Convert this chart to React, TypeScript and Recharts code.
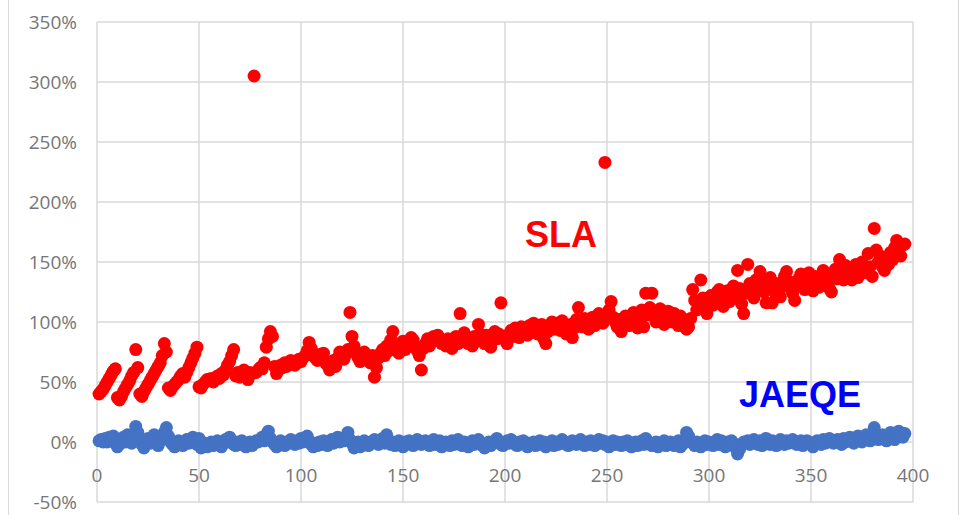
import React from 'react';
import { ScatterChart, Scatter, XAxis, YAxis, CartesianGrid } from 'recharts';

// SLA values (%), one per sequence number starting at 1
const slaValues = [
  40, 42, 44, 47, 50, 53, 56, 59, 61, 37, 35, 38, 42, 45, 48, 51, 55, 58, 77, 62,
  40, 38, 42, 45, 48, 51, 54, 57, 60, 63, 66, 72, 82, 75, 45, 43, 46, 48, 50, 52,
  55, 57, 54, 58, 62, 66, 70, 74, 79, 46, 45, 48, 50, 52, 51, 53, 50, 52, 55, 53,
  57, 56, 60, 64, 67, 72, 77, 55, 58, 54, 57, 60, 56, 52, 58, 57, 305, 58, 60, 62,
  61, 66, 79, 86, 92, 88, 63, 57, 60, 64, 62, 66, 63, 65, 68, 67, 64, 66, 69, 67,
  70, 72, 76, 83, 78, 72, 70, 68, 73, 72, 74, 66, 64, 60, 65, 68, 63, 70, 75, 72,
  69, 73, 77, 108, 88, 80, 74, 70, 67, 72, 75, 71, 68, 66, 72, 54, 62, 70, 74, 77,
  72, 80, 76, 85, 92, 82, 78, 74, 80, 84, 77, 79, 83, 87, 85, 80, 76, 72, 60, 78,
  82, 86, 80, 84, 88, 85, 89, 86, 82, 84, 80, 86, 83, 78, 85, 88, 82, 107, 84, 91,
  87, 82, 85, 80, 88, 84, 98, 90, 86, 82, 89, 85, 79, 88, 92, 86, 90, 116, 88, 85,
  82, 90, 93, 88, 95, 91, 87, 96, 92, 94, 89, 97, 93, 99, 95, 90, 94, 98, 86, 82,
  92, 96, 100, 94, 99, 97, 93, 101, 96, 90, 94, 98, 87, 95, 102, 112, 99, 96, 103, 100,
  94, 98, 104, 97, 101, 107, 103, 99, 233, 106, 110, 117, 104, 100, 96, 102, 92, 99, 105, 101,
  97, 103, 108, 100, 95, 104, 110, 96, 124, 106, 112, 124, 105, 100, 108, 111, 104, 98, 106, 109,
  103, 100, 107, 102, 97, 105, 101, 98, 94, 96, 103, 127, 118, 110, 115, 135, 120, 112, 107, 116,
  122, 114, 119, 125, 127, 118, 113, 121, 126, 117, 124, 130, 120, 143, 128, 115, 107, 124, 148, 132,
  126, 120, 135, 128, 142, 133, 125, 116, 130, 137, 116, 125, 132, 127, 121, 130, 138, 142, 134, 128,
  124, 118, 131, 136, 140, 133, 127, 135, 141, 132, 126, 138, 134, 129, 136, 143, 137, 131, 128, 125,
  139, 144, 136, 152, 141, 135, 147, 140, 144, 135, 140, 148, 137, 142, 150, 145, 141, 157, 146, 138,
  178, 160, 150, 155, 146, 143, 152, 148, 158, 152, 162, 168, 160, 155, 164, 165,
];

// JAEQE values (%)
const jaeqeValues = [
  1, 2, 0, 3, 0, 4, 1, 5, -1, -4, -2, 1, 4, 0, 6, 2, -1, 4, 13, 8,
  1, -2, -5, 0, 3, -1, 2, 6, 0, -3, 1, 4, 8, 12, 5, 0, -2, -4, -1, 1,
  -2, -3, 0, 2, -1, 1, 4, 0, -2, 3, -5, -3, -1, -4, -2, 0, -3, -1, 1, -2,
  -4, -1, 2, 0, 4, 1, -2, -3, 0, -2, 1, -1, -4, -2, 0, -3, -1, 1, 0, 2,
  4, 1, 6, 9, 3, 0, -2, -4, -1, 1, -2, -3, 0, -1, 2, 0, -2, 1, -1, 3,
  0, 2, 5, 1, -2, -4, -1, -3, 0, -2, 1, -1, -3, 0, 2, -1, 1, 4, 0, 3,
  1, 4, 8, 2, -1, -5, -2, 0, -4, -1, 1, -2, -3, 0, -1, 2, 0, -2, 1, 3,
  -1, 6, 1, -2, 0, -3, -1, 1, -2, -4, 0, -1, 1, -2, -3, 0, 2, -1, -2, 0,
  1, -1, -3, 0, 2, -2, -1, 1, -4, -2, 0, -1, -3, 1, -2, 0, 2, -1, -3, 0,
  -2, -4, -1, 1, -2, 0, 2, -1, -3, -5, -2, 0, -3, -1, 1, 3, 0, -2, -3, -1,
  1, -1, 2, 0, -2, -3, 0, -1, 1, -2, -4, -1, -2, 0, -3, -1, 1, -2, 0, -4,
  -2, -1, 1, -3, 0, -2, -1, 2, 0, -2, -3, 0, 1, -1, -2, 0, 2, -1, -3, 0,
  -2, 1, -1, -3, 0, 2, -1, 1, -2, 0, -4, -1, 1, -2, 0, -1, -3, 0, -2, 1,
  -1, -4, -2, 0, -3, -1, 1, -2, 3, 0, -1, -3, -2, 0, -4, -1, -2, 1, -3, -1,
  0, -2, -3, -1, 1, -4, -2, 0, 8, 5, 1, -1, -3, 0, -2, -4, -1, 1, -2, 0,
  -1, -3, 0, 2, -2, 1, -1, -4, 0, -2, 1, -1, -5, -10, -6, -2, 0, -1, 1, -2,
  0, 2, -1, -2, 1, -3, 0, 3, -1, -2, 1, 0, -3, -1, 2, 0, -2, 1, -1, 0,
  2, -1, -2, 0, 1, -3, -1, 1, 0, -2, -4, -1, 1, 0, -2, 2, -1, 0, 3, 1,
  -1, 0, 2, 1, -2, 3, 0, 2, 4, 1, -1, 3, 5, 2, 0, 4, 6, 3, 1, 7,
  12, 5, 2, 4, 6, 3, 1, 4, 8, 5, 2, 6, 9, 5, 4, 7,
];

const xTicks = [0, 50, 100, 150, 200, 250, 300, 350, 400];
const yTicks = [-50, 0, 50, 100, 150, 200, 250, 300, 350];

const slaData = slaValues.map((v, i) => ({ x: i + 1, y: v }));
const jaeqeData = jaeqeValues.map((v, i) => ({ x: i + 1, y: v }));

const labelFont = '"Open Sans", sans-serif';

const XTick = (props: any) => {
  const { x, y, payload } = props;
  return (
    <text x={x} y={y - 20} textAnchor="middle" fill="#767676" fontSize={19} fontFamily={labelFont}>
      {payload.value}
    </text>
  );
};

const dot = (color: string) => (props: any) => (
  <circle cx={props.cx} cy={props.cy} r={6.5} fill={color} />
);

export default function App() {
  return (
    <div style={{ position: 'absolute', left: 0, top: 0, width: 959, height: 515, background: '#fff' }}>
      <div
        style={{
          position: 'absolute',
          left: 8,
          top: 0,
          width: 949,
          height: 515,
          borderLeft: '1px solid #d9d9d9',
          borderRight: '1px solid #d9d9d9',
        }}
      />
      <ScatterChart width={959} height={515} margin={{ top: 22, right: 46, bottom: 0, left: 0 }}>
        <CartesianGrid stroke="#d9d9d9" strokeWidth={1.5} />
        <XAxis
          type="number"
          dataKey="x"
          domain={[0, 400]}
          ticks={xTicks}
          height={13}
          axisLine={false}
          tickLine={false}
          tickSize={0}
          tickMargin={0}
          tick={<XTick />}
          interval={0}
        />
        <YAxis
          type="number"
          dataKey="y"
          domain={[-50, 350]}
          ticks={yTicks}
          width={97}
          axisLine={false}
          tickLine={false}
          tickSize={0}
          tickMargin={20}
          interval={0}
          tickFormatter={(v) => `${v}%`}
          tick={{ fill: '#767676', fontSize: 19, fontFamily: labelFont }}
        />
        <Scatter data={slaData} fill="#ff0000" shape={dot('#ff0000')} isAnimationActive={false} />
        <Scatter data={jaeqeData} fill="#4472c4" shape={dot('#4472c4')} isAnimationActive={false} />
      </ScatterChart>
      <div
        style={{
          position: 'absolute',
          left: 525,
          top: 217,
          fontFamily: '"Liberation Sans", Arial, sans-serif',
          fontWeight: 'bold',
          fontSize: 36,
          lineHeight: 1,
          color: '#ff0000',
        }}
      >
        SLA
      </div>
      <div
        style={{
          position: 'absolute',
          left: 739,
          top: 377,
          fontFamily: '"Liberation Sans", Arial, sans-serif',
          fontWeight: 'bold',
          fontSize: 36,
          lineHeight: 1,
          color: '#0000ff',
        }}
      >
        JAEQE
      </div>
    </div>
  );
}
